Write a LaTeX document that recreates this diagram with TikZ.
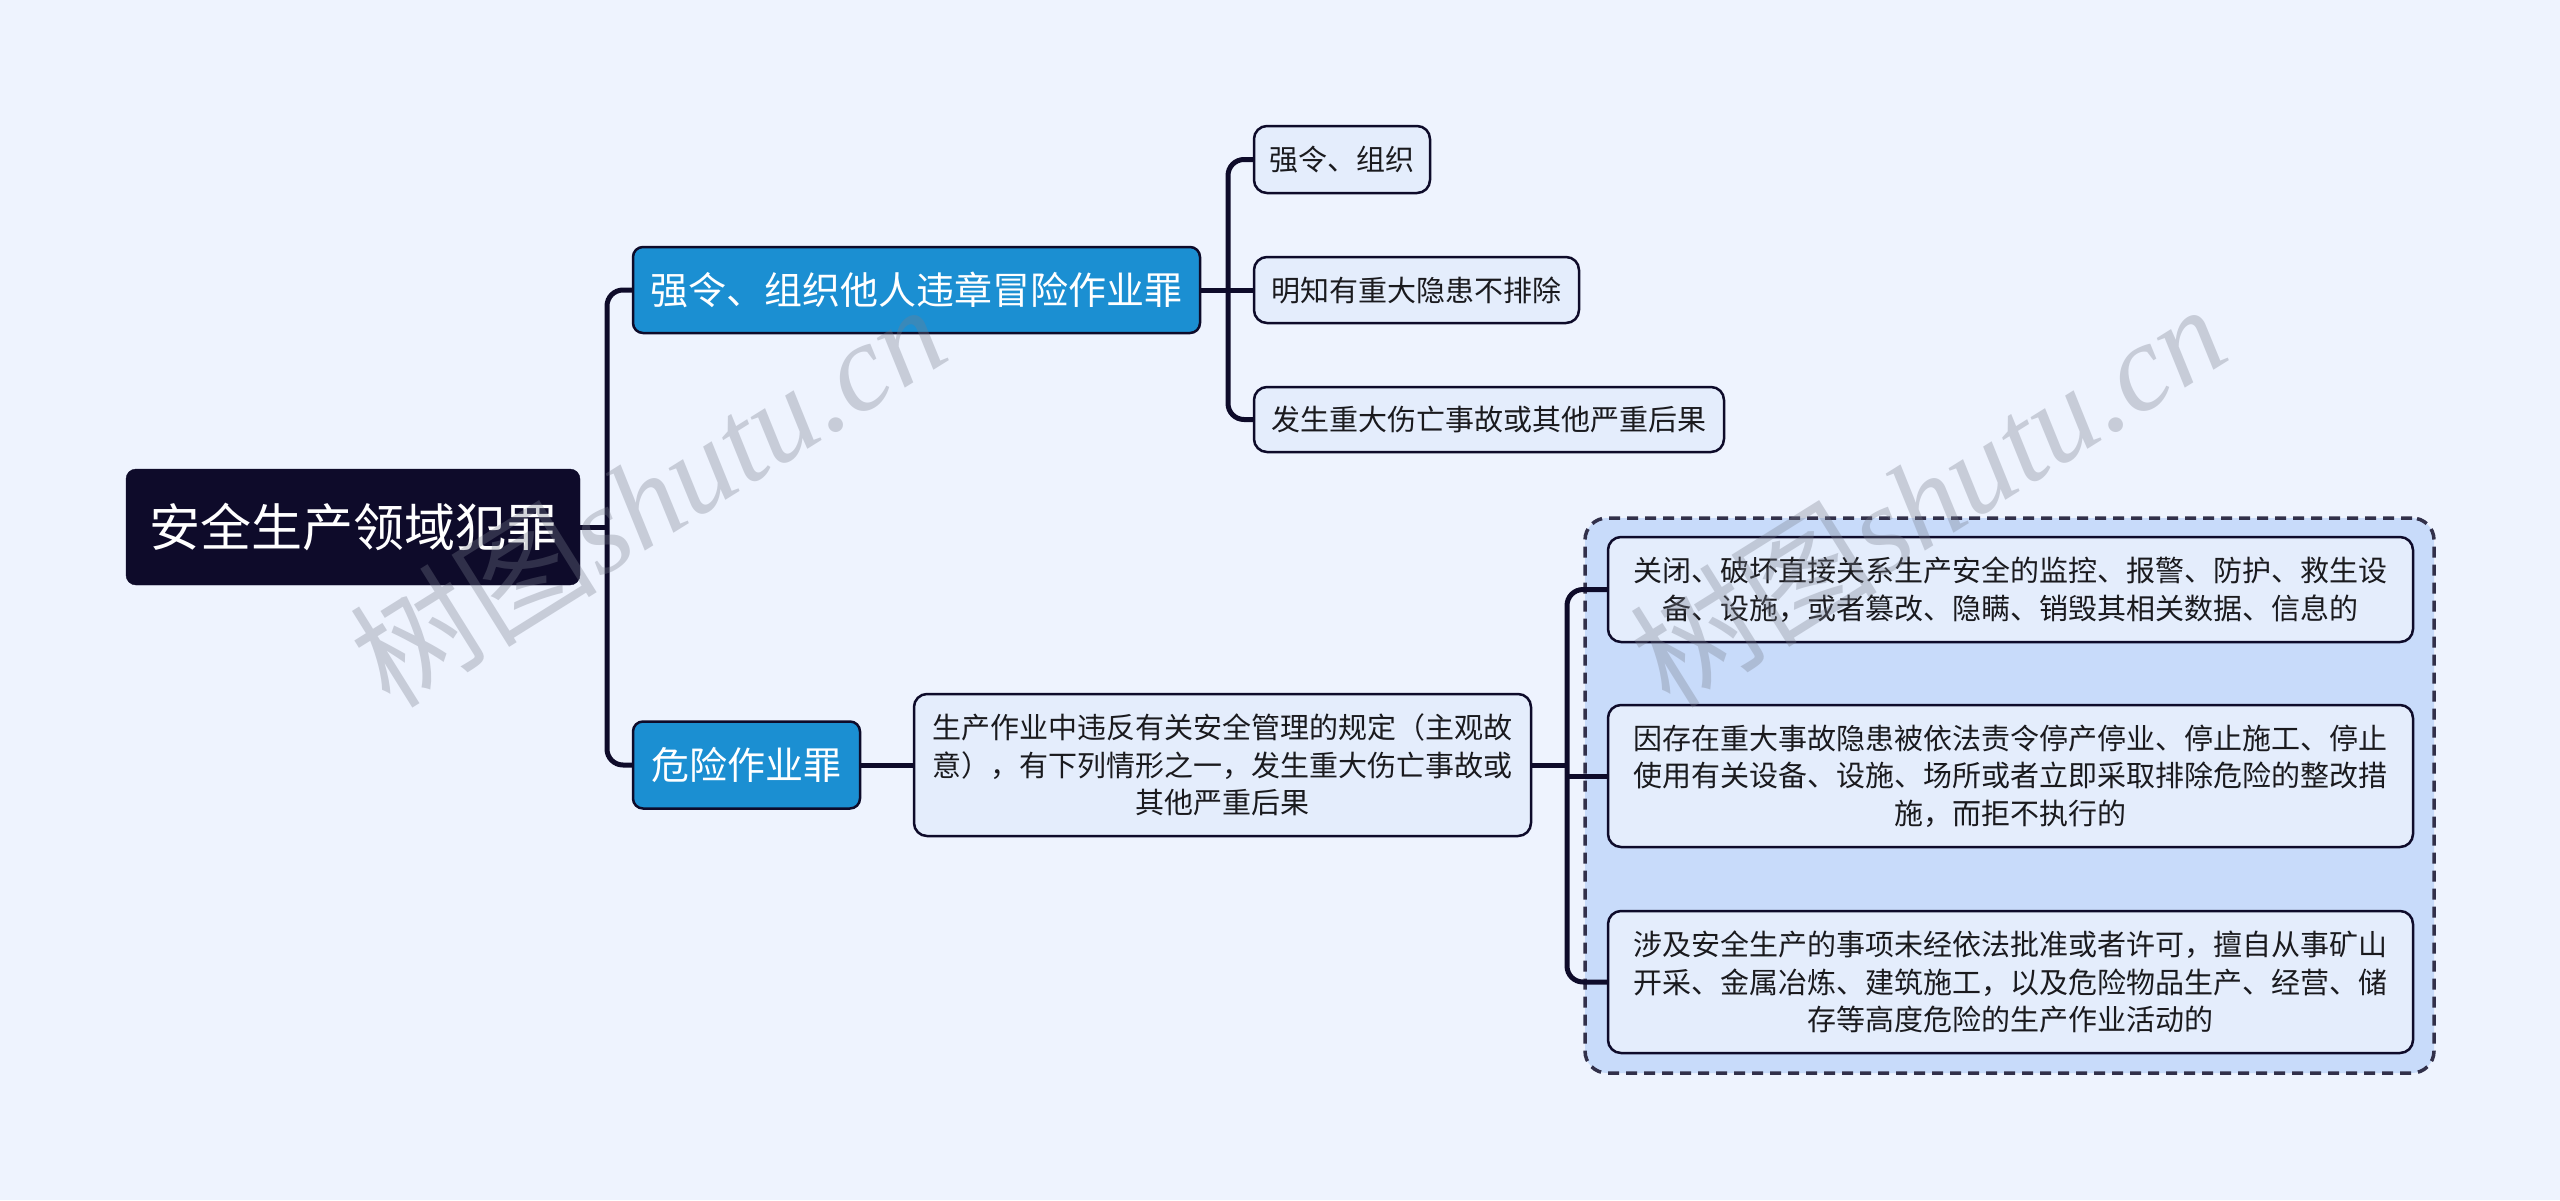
\documentclass[tikz,border=0pt]{standalone}
\usepackage{fontspec}
\setmainfont{Noto Sans CJK SC}
\newfontfamily\wmserif{Liberation Serif}
\definecolor{bg}{RGB}{238,243,254}
\definecolor{navy}{RGB}{14,11,42}
\definecolor{blueb}{RGB}{27,143,210}
\definecolor{leaff}{RGB}{228,237,252}
\definecolor{grpf}{RGB}{200,219,250}
\definecolor{txt}{RGB}{26,26,30}
\definecolor{wm}{RGB}{120,125,140}
\tikzset{
  conn/.style={draw=navy, line width=5, rounded corners=16},
  rootbox/.style={fill=navy, draw=navy, rounded corners=10, text=white, font=\fontsize{51}{58}\selectfont, inner sep=0, align=center},
  bluebox/.style={fill=blueb, draw=navy, line width=2.5, rounded corners=10, text=white, font=\fontsize{38}{46}\selectfont, inner sep=0, align=center},
  leafbox/.style={fill=leaff, draw=navy, line width=2.5, rounded corners=13, text=txt, font=\fontsize{29}{37.5}\selectfont, inner sep=0, align=center},
  grpbox/.style={fill=grpf, draw=navy!85, line width=3.5, dash pattern=on 11 off 7, rounded corners=22, inner sep=0},
  wmark/.style={rotate=32, text=wm, opacity=0.33, inner sep=0}
}
\begin{document}
\begin{tikzpicture}[x=1pt,y=-1pt]
\fill[bg] (0,0) rectangle (2560,1200);
\useasboundingbox (0,0) rectangle (2560,1200);

% group background
\node[grpbox, minimum width=849, minimum height=555] (grp) at (2009.5,795.5) {};

% nodes
\node[rootbox, minimum width=454, minimum height=116] (root) at (353,527) {安全生产领域犯罪};
\node[bluebox, minimum width=567, minimum height=86] (b1) at (916.5,290) {强令、组织他人违章冒险作业罪};
\node[bluebox, minimum width=227, minimum height=87] (b2) at (746.5,765) {危险作业罪};

\node[leafbox, minimum width=176, minimum height=67] (l1) at (1342,159.5) {强令、组织};
\node[leafbox, minimum width=325, minimum height=66] (l2) at (1416.5,290) {明知有重大隐患不排除};
\node[leafbox, minimum width=470, minimum height=65] (l3) at (1489,419.5) {发生重大伤亡事故或其他严重后果};

\node[leafbox, minimum width=617, minimum height=142] (mid) at (1222.5,765) {生产作业中违反有关安全管理的规定（主观故\\意），有下列情形之一，发生重大伤亡事故或\\其他严重后果};

\node[leafbox, minimum width=805, minimum height=105] (i1) at (2010.5,589.5) {关闭、破坏直接关系生产安全的监控、报警、防护、救生设\\备、设施，或者篡改、隐瞒、销毁其相关数据、信息的};
\node[leafbox, minimum width=805, minimum height=142] (i2) at (2010.5,776) {因存在重大事故隐患被依法责令停产停业、停止施工、停止\\使用有关设备、设施、场所或者立即采取排除危险的整改措\\施，而拒不执行的};
\node[leafbox, minimum width=805, minimum height=142] (i3) at (2010.5,982) {涉及安全生产的事项未经依法批准或者许可，擅自从事矿山\\开采、金属冶炼、建筑施工，以及危险物品生产、经营、储\\存等高度危险的生产作业活动的};

% connectors
\coordinate (j1) at (607,527);
\coordinate (j2) at (1228,290);
\coordinate (j3) at (1567,765);

\draw[conn] (root.east) -- (j1);
\draw[conn] (b1.west) -| (j1) |- (b2.west);

\draw[conn] (b1.east) -- (j2);
\draw[conn] (l1.west) -| (j2) |- (l3.west);
\draw[conn] (j2) -- (l2.west);

\draw[conn] (b2.east) -- (mid.west);

\draw[conn] (mid.east) -- (j3);
\draw[conn] (i1.west) -| (j3) |- (i3.west);
\draw[conn] (j3 |- i2.west) -- (i2.west);

% watermarks
\node[wmark] (wm1) at (647,494) {\fontsize{124}{130}\selectfont 树图{\wmserif\itshape shutu.cn}};
\node[wmark] (wm2) at (1927,494) {\fontsize{124}{130}\selectfont 树图{\wmserif\itshape shutu.cn}};
\end{tikzpicture}
\end{document}
